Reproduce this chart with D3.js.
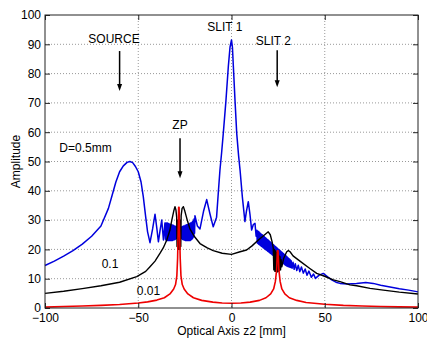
<!DOCTYPE html>
<html>
<head>
<meta charset="utf-8">
<script src="https://cdn.jsdelivr.net/npm/d3@7"></script>
<style>
  body { margin: 0; background: #fff; }
  svg { display: block; font-family: Arial, "Liberation Sans", sans-serif; }
</style>
</head>
<body>
<svg width="427" height="338"></svg>
<script>
// D = 0.5 mm (blue)
const blueZ = [-100, -95, -90, -85, -80, -75, -70, -66, -64, -62, -60, -58, -56, -54.5, -53, -51.5, -50, -48.5, -47.3, -46, -45, -43.7,
  -42.3, -41, -40, -39.2, -38.3, -37.4, -36.5, -35.7,
  -35.4, -35.2, -35.0, -34.8, -34.6, -34.4, -34.2, -34.0, -33.8, -33.6, -33.4, -33.2, -33.0, -32.8, -32.6, -32.4, -32.2, -32.0,
  -31.8, -31.6, -31.4, -31.2, -31.0, -30.8, -30.6, -30.4, -30.2, -30.0, -29.8, -29.6, -29.4, -29.2, -29.0, -28.8, -28.6, -28.4,
  -28.2, -28.0, -27.8, -27.6, -27.4, -27.2, -27.0, -26.8, -26.6, -26.4, -26.2, -26.0, -25.8, -25.6, -25.4, -25.2, -25.0, -24.8,
  -24.6, -24.4, -24.2, -24.0, -23.8, -23.6, -23.4, -23.2, -23.0, -22.8, -22.6, -22.4, -22.2, -22.0, -21.8, -21.6, -21.4, -21.2,
  -21.0, -20.8, -20.6, -20.4, -20.2, -20.0, -19.8, -19.6,
  -18.3, -16.9, -15, -13.3, -11.5, -9.8, -8, -7, -6.2, -5.3, -4.4, -3, -1.7, -0.8, 0, 0.5, 1, 1.9,
  2.8, 3.8, 4.6, 5.8, 7.2, 8, 9, 9.9, 10.8, 11.7, 12.6, 13.2,
  13.6, 13.8, 14.0, 14.2, 14.4, 14.6, 14.8, 15.0, 15.2, 15.4, 15.6, 15.8, 16.0, 16.2, 16.4, 16.6, 16.8, 17.0, 17.2, 17.4,
  17.6, 17.8, 18.0, 18.2, 18.4, 18.6, 18.8, 19.0, 19.2, 19.4, 19.6, 19.8, 20.0, 20.2, 20.4, 20.6, 20.8, 21.0, 21.2, 21.4,
  21.6, 21.8, 22.0, 22.2, 22.4, 22.6, 22.8, 23.0, 23.2, 23.4, 23.6, 23.8, 24.0, 24.2, 24.4, 24.6, 24.8, 25.0, 25.2, 25.4,
  25.6, 25.8, 26.0, 26.2, 26.4, 26.6, 26.8, 27.0, 27.2, 27.4, 27.6, 27.8, 28.0, 28.2, 28.4, 28.6, 28.8, 29.0, 29.2, 29.4,
  29.6, 29.8, 30.0, 30.2, 30.4, 30.6, 30.8, 31.0, 31.2, 31.4, 31.6, 31.8, 32.0, 32.5,
  33, 33.6, 34.2, 35, 35.8, 36.6, 37.5, 38.5, 39.5, 40.5, 41.5, 42.8, 44, 45, 47, 49.2, 51.2, 53.7, 56,
  58.2, 62, 67, 72, 76, 80, 85, 90, 95, 100]
const blueAmp = [14.5, 16, 17.7, 19.6, 21.8, 24.5, 28, 34, 38.5, 43, 46.5, 48.5, 49.7, 50, 49.6, 48.3, 46.5, 43, 38, 31, 26, 22.3,
  27, 32, 27, 22.6, 26.5, 30, 23.2, 29,
  23.5, 29, 23, 29, 23, 29, 23, 28.8, 23, 28.8, 23, 28.6, 23, 28.6, 23, 28.4, 23, 28.4,
  23, 28.2, 23.2, 28.2, 23.2, 28, 23.3, 28, 23.4, 27.8, 23.6, 27.8, 23.8, 27.6, 24, 27.6, 24, 27.5,
  24, 27.5, 24, 27.5, 24, 27.6, 23.8, 27.6, 23.6, 27.8, 23.4, 27.8, 23.3, 28, 23.2, 28, 23.1, 28.2,
  23, 28.2, 23, 28.4, 23, 28.4, 23, 28.6, 23, 28.6, 23, 28.8, 23, 29, 23.2, 29, 23.4, 29.3,
  23.6, 29.5, 24, 30, 24.5, 30.5, 25.5, 31.5,
  28, 27, 33, 37, 32, 27.7, 31, 40, 47, 53, 59.6, 70.6, 82.4, 89, 91.5, 89, 82.4, 70.6,
  59.6, 52, 47, 38, 29.5, 33, 36.3, 32, 26.6, 28.5, 28.9, 24.5,
  26.5, 22.2, 26.3, 22.0, 26.1, 21.8, 25.9, 21.6, 25.6, 21.4, 25.4, 21.2, 25.2, 21.0, 25.0, 20.8, 24.8, 20.6, 24.5, 20.4,
  24.3, 20.2, 24.1, 20.0, 23.9, 19.8, 23.6, 19.6, 23.4, 19.4, 23.2, 19.2, 23.0, 19.0, 22.7, 18.8, 22.5, 18.6, 22.3, 18.4,
  22.1, 18.2, 21.8, 18.0, 21.6, 17.8, 21.4, 17.6, 21.2, 17.4, 20.9, 17.2, 20.7, 17.0, 20.5, 16.8, 20.3, 16.6, 20.0, 16.4,
  19.8, 16.2, 19.6, 16.0, 19.4, 15.8, 19.1, 15.6, 18.9, 15.4, 18.7, 15.2, 18.5, 15.0, 18.2, 14.8, 18.0, 14.6, 17.8, 14.4,
  17.6, 14.3, 17.3, 14.2, 17.1, 14.1, 16.8, 14.0, 16.6, 13.9, 16.4, 13.8, 16.1, 13.6,
  15.6, 13.2, 15.1, 12.8, 14.6, 12.4, 14, 11.9, 13.3, 11.2, 12.6, 10.5, 11.6, 10.1, 11.2, 11.8, 10.8, 9.6, 8.8,
  8.4, 8.2, 8.4, 8.7, 8.4, 7.8, 7.2, 6.6, 6.1, 5.5]

// D = 0.1 mm (black)
const blackZ = [-100, -90, -80, -70, -60, -50.8, -46, -43.7, -41, -38.3, -36.6, -34.7, -33, -32, -31, -30.3, -29.8, -29.4,
  -29.2, -29.0, -28.8, -28.6, -28.4, -28.2, -28.0, -27.8, -27.6, -27.4, -27.2, -27, -26.5, -25.8, -25, -23.5, -22.3, -20,
  -16.9, -13, -9.8, -5, 0, 4.6, 8.1, 11, 14.4, 17, 19.7, 20.8, 21.8, 22.4,
  22.7, 23, 23.3, 23.6, 23.9, 24.2, 24.5, 24.8, 25.1, 25.4, 25.7, 26, 26.3, 26.6, 27, 28, 29.6, 30.5, 31.4, 33, 36.7, 42,
  45.7, 49.2, 54.6, 58.2, 63.5, 67.1, 74.3, 81.4, 90, 100]
const blackAmp = [5, 5.7, 6.6, 7.6, 8.8, 10.7, 12.5, 14.1, 16, 18.7, 20.5, 23.2, 26.6, 30, 33, 34.6, 33.5, 31,
  21, 30, 20, 29, 20, 29, 20, 29, 20, 30, 21, 31.5, 34, 34.6, 33, 29.5, 27, 24.5,
  22, 20.5, 19.6, 18.7, 18.3, 19.2, 19.8, 21.2, 23.2, 24.6, 26, 25, 22.5, 20.4,
  13, 20, 12.5, 19.5, 12.5, 19, 12.3, 18.5, 12.5, 18, 12.7, 17.5, 13, 16.5, 14.1, 17, 19.2, 19.6, 19.2, 17.8, 16, 13.5,
  11.8, 11, 9.6, 9, 7.9, 7.6, 6.7, 6.1, 5.4, 4.8]

// D = 0.01 mm (red)
const redZ = [-100, -90, -80, -70, -60, -50, -45, -40, -36, -33, -31, -30, -29.3, -28.9, -28.6, -28.35, -28.1, -27.85, -27.5,
  -27.1, -26.4, -25.4, -23.4, -20.4, -16, -10, -5, 0, 5, 10, 15, 18.5, 21, 22.6, 23.5, 24.2, 24.6, 25, 25.4, 26.1, 27, 28.6,
  31, 35, 40, 50, 60, 70, 80, 90, 100]
const redAmp = [0.3, 0.5, 0.7, 0.9, 1.2, 1.7, 2.1, 2.7, 3.5, 4.8, 6.5, 8, 11, 17, 26, 34.4, 34.4, 26, 17,
  11, 8, 6.5, 4.8, 3.5, 2.6, 2, 1.7, 1.6, 1.7, 2, 2.6, 3.5, 4.8, 6.5, 9, 13, 19.5, 19.5, 13, 9, 6.5, 4.8,
  3.5, 2.6, 1.9, 1.3, 0.9, 0.7, 0.5, 0.4, 0.3]

const xTicks = [-100, -50, 0, 50, 100]
const yTicks = [0, 10, 20, 30, 40, 50, 60, 70, 80, 90, 100]

const svg = d3.select('svg')
const W = +svg.attr('width')
const H = +svg.attr('height')
const margin = {top: 15, right: 9, bottom: 30, left: 45}
const w = W - margin.left - margin.right
const h = H - margin.top - margin.bottom

const x = d3.scaleLinear().domain([-100, 100]).range([0, w])
const y = d3.scaleLinear().domain([0, 100]).range([h, 0])

const g = svg.append('g')
    .attr('transform', `translate(${margin.left}, ${margin.top})`)

// dotted grid
g.append('g').selectAll('line').data(xTicks.slice(1, -1)).join('line')
    .attr('x1', d => x(d)).attr('x2', d => x(d))
    .attr('y1', 0).attr('y2', h)
    .attr('stroke', '#999').attr('stroke-dasharray', '1,2')
g.append('g').selectAll('line').data(yTicks.slice(1, -1)).join('line')
    .attr('x1', 0).attr('x2', w)
    .attr('y1', d => y(d)).attr('y2', d => y(d))
    .attr('stroke', '#999').attr('stroke-dasharray', '1,2')

// curves
const line = d3.line().x(d => x(d[0])).y(d => y(d[1]))
const series = [
  {z: blueZ, a: blueAmp, color: '#0000dd', width: 1.5},
  {z: blackZ, a: blackAmp, color: '#000', width: 1.4},
  {z: redZ, a: redAmp, color: '#ee0000', width: 1.6}
]
series.forEach(s => {
  g.append('path')
      .datum(s.z.map((v, i) => [v, s.a[i]]))
      .attr('fill', 'none')
      .attr('stroke', s.color)
      .attr('stroke-width', s.width)
      .attr('stroke-linejoin', 'round')
      .attr('d', line)
})

// axes, ticks pointing inward on all sides
const axB = g.append('g').attr('transform', `translate(0, ${h})`)
    .call(d3.axisBottom(x).tickValues(xTicks).tickSize(-5).tickPadding(5))
const axL = g.append('g')
    .call(d3.axisLeft(y).tickValues(yTicks).tickSize(-5).tickPadding(4))
g.append('g')
    .call(d3.axisTop(x).tickValues(xTicks).tickSize(-5).tickFormat(''))
g.append('g').attr('transform', `translate(${w}, 0)`)
    .call(d3.axisRight(y).tickValues(yTicks).tickSize(-5).tickFormat(''))
g.selectAll('.domain').remove()
g.selectAll('.tick line').attr('stroke', '#222')
g.selectAll('.tick text').attr('font-size', 12).attr('fill', '#000')
    .attr('font-family', 'Arial, "Liberation Sans", sans-serif')
axB.selectAll('.tick text').attr('dy', '0.71em')

g.append('rect')
    .attr('width', w).attr('height', h)
    .attr('fill', 'none').attr('stroke', '#222').attr('stroke-width', 1)

// axis labels
svg.append('text')
    .attr('x', margin.left + x(0)).attr('y', 335)
    .attr('text-anchor', 'middle').attr('font-size', 12)
    .text('Optical Axis z2 [mm]')
svg.append('text')
    .attr('transform', `translate(20, ${margin.top + h / 2}) rotate(-90)`)
    .attr('text-anchor', 'middle').attr('font-size', 12)
    .text('Amplitude')

// annotations
const notes = [
  {t: 'SOURCE', z: -63, a: 90.5, anchor: 'middle'},
  {t: 'SLIT 1', z: -3.6, a: 94.7, anchor: 'middle'},
  {t: 'SLIT 2', z: 22.4, a: 89.8, anchor: 'middle'},
  {t: 'ZP', z: -27.6, a: 61, anchor: 'middle'},
  {t: 'D=0.5mm', z: -92.3, a: 53.3, anchor: 'start'},
  {t: '0.1', z: -69.6, a: 13.5, anchor: 'start'},
  {t: '0.01', z: -50.8, a: 4.6, anchor: 'start'}
]
g.selectAll('text.note').data(notes).join('text')
    .attr('class', 'note')
    .attr('x', d => x(d.z)).attr('y', d => y(d.a))
    .attr('text-anchor', d => d.anchor)
    .attr('font-size', 12)
    .text(d => d.t)

const arrows = [
  {z: -60, from: 87.7, to: 74.1},
  {z: -27.6, from: 57.9, to: 44.3},
  {z: 24.5, from: 88, to: 75.3}
]
arrows.forEach(d => {
  const ax = x(d.z), y0 = y(d.from), y1 = y(d.to)
  g.append('line')
      .attr('x1', ax).attr('x2', ax).attr('y1', y0).attr('y2', y1 - 6)
      .attr('stroke', '#000').attr('stroke-width', 1.5)
  g.append('path')
      .attr('d', `M${ax - 2.5},${y1 - 7} L${ax + 2.5},${y1 - 7} L${ax},${y1} Z`)
      .attr('fill', '#000')
})
</script>
</body>
</html>
